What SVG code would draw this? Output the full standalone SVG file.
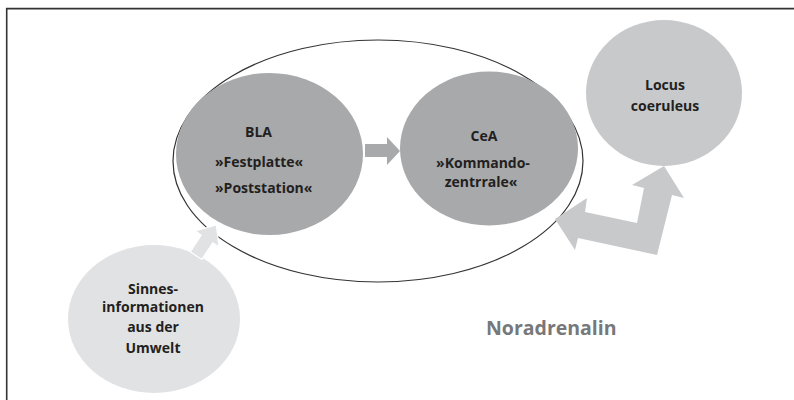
<svg xmlns="http://www.w3.org/2000/svg" width="794" height="400" viewBox="0 0 794 400">
<style>
.lbl{font-family:"Open Sans","Liberation Sans",sans-serif;font-weight:700;font-size:14px;fill:#231f20}
.mid{text-anchor:middle}
.dark{fill:#a8a9ab}
.med{fill:#c8c9cb}
.light{fill:#e1e2e4}
</style>
<rect width="794" height="400" fill="#fff"/>
<path d="M6.7,400 V8.6 H794" fill="none" stroke="#333" stroke-width="1.6"/>
<g id="amygdala">
<ellipse cx="378" cy="161" rx="205" ry="121" fill="none" stroke="#333" stroke-width="1.2"/>
</g>
<g id="bla">
<ellipse class="dark" cx="269.5" cy="154" rx="93.5" ry="81"/>
<text class="lbl" x="245" y="136.5">BLA</text>
<text class="lbl" x="215" y="166.5">»Festplatte«</text>
<text class="lbl" x="215" y="193">»Poststation«</text>
</g>
<g id="cea">
<ellipse class="dark" cx="489" cy="148.5" rx="89" ry="77"/>
<text class="lbl mid" x="484" y="141">CeA</text>
<text class="lbl mid" x="483" y="167.5">»Kommando-</text>
<text class="lbl mid" x="481" y="187">zentrrale«</text>
</g>
<g id="locus">
<ellipse class="med" cx="664" cy="93" rx="78" ry="73"/>
<text class="lbl mid" x="665" y="90">Locus</text>
<text class="lbl mid" x="665" y="110.5">coeruleus</text>
</g>
<g id="sinnes">
<ellipse class="light" cx="154" cy="319" rx="86" ry="74"/>
<text class="lbl mid" x="153" y="293.5">Sinnes-</text>
<text class="lbl mid" x="153" y="312">informationen</text>
<text class="lbl mid" x="153" y="332">aus der</text>
<text class="lbl mid" x="153" y="352.5">Umwelt</text>
</g>
<g id="connectors">
<polygon class="dark" points="365,144 387,144 387,137 400,151 387,165 387,157 365,157"/>
<polygon class="light" stroke="#fff" stroke-width="1.2" points="216.4,224.9 219,247 212.8,242.8 201.8,259.4 190.2,251.8 201.2,235.2 195,231"/>
<polygon class="med" points="664,166 684,198 672,195 657,255 578,238 575,250 555,219 587,198 585,212 637,223 644,188 632,185"/>
</g>
<text x="486" y="335" font-family="'Open Sans','Liberation Sans',sans-serif" font-weight="700" font-size="19.5" fill="#77787a">Noradrenalin</text>
</svg>
